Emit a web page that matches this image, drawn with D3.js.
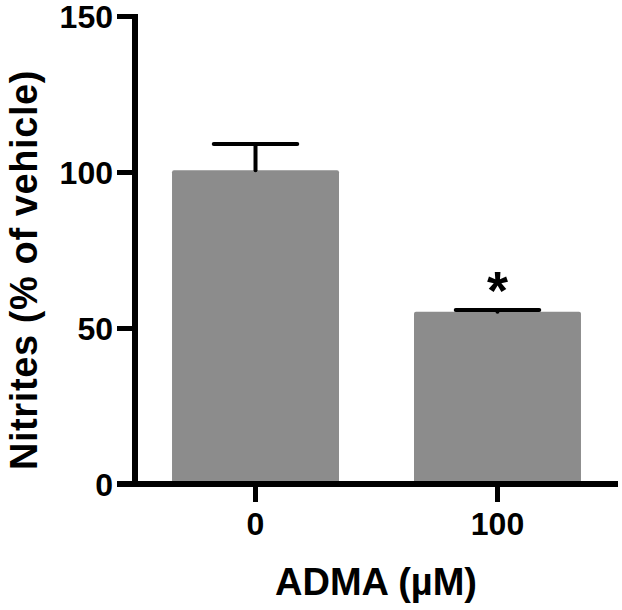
<!doctype html>
<html lang="en">
<head>
    <meta charset="UTF-8" />
    <title>Nitrites</title>
    <script src="https://d3js.org/d3.v7.min.js"></script>
    <style>
        body, html {
            margin: 0;
            padding: 0;
            background: #fff;
            overflow: hidden;
        }
        svg {
            display: block;
            font-family: "Liberation Sans", Arial, sans-serif;
            font-weight: bold;
        }
    </style>
</head>
<body>
    <svg id="chart" width="622" height="610"></svg>
    <script>
        // data
        const doses = ["0", "100"];
        const means = [100.6, 55.2];
        const sems = [8.4, 0.6];
        const stars = ["", "*"];
        const yTicks = [0, 50, 100, 150];

        const svg = d3.select("#chart");

        const x = d3.scaleBand()
            .domain(doses)
            .range([135, 618])
            .paddingInner(0.31)
            .paddingOuter(0.153);

        const y = d3.scaleLinear()
            .domain([0, 150])
            .range([484, 16]);

        // bars
        svg.selectAll("rect.bar")
            .data(doses)
            .enter().append("rect")
            .attr("class", "bar")
            .attr("x", d => x(d))
            .attr("y", (d, i) => y(means[i]))
            .attr("width", x.bandwidth())
            .attr("height", (d, i) => y(0) - y(means[i]))
            .attr("rx", 2)
            .attr("fill", "#8c8c8c");

        // error bars (upper only)
        const capW = x.bandwidth() / 2;
        doses.forEach((d, i) => {
            const cx = x(d) + x.bandwidth() / 2;
            svg.append("line")
                .attr("x1", cx).attr("x2", cx)
                .attr("y1", y(means[i])).attr("y2", y(means[i] + sems[i]))
                .attr("stroke", "#000").attr("stroke-width", 4)
                .attr("stroke-linecap", "round");
            svg.append("line")
                .attr("x1", cx - capW / 2).attr("x2", cx + capW / 2)
                .attr("y1", y(means[i] + sems[i])).attr("y2", y(means[i] + sems[i]))
                .attr("stroke", "#000").attr("stroke-width", 4)
                .attr("stroke-linecap", "round");
            if (stars[i]) {
                svg.append("text")
                    .attr("x", cx)
                    .attr("y", y(means[i] + sems[i]) - 1)
                    .attr("text-anchor", "middle")
                    .attr("font-size", 54)
                    .text(stars[i]);
            }
        });

        // y axis
        const yAxis = svg.append("g")
            .attr("transform", "translate(135,0)")
            .call(d3.axisLeft(y).tickValues(yTicks).tickSize(18).tickPadding(4).tickSizeOuter(0));
        yAxis.select(".domain").attr("stroke-width", 6).attr("stroke", "#000")
            .attr("d", `M0,${y(150) - 2}V${y(0) + 3}`);
        yAxis.selectAll(".tick line").attr("stroke-width", 5).attr("stroke", "#000");
        yAxis.selectAll(".tick text")
            .attr("font-size", 32).attr("fill", "#000")
            .attr("font-family", "Liberation Sans, Arial, sans-serif")
            .attr("font-weight", "bold")
            .attr("dy", "0.36em");

        // x axis
        const xAxis = svg.append("g")
            .attr("transform", `translate(0,${y(0)})`)
            .call(d3.axisBottom(x).tickSize(18).tickPadding(10).tickSizeOuter(0));
        xAxis.select(".domain").attr("stroke-width", 6).attr("stroke", "#000")
            .attr("d", "M117,0H618");
        xAxis.selectAll(".tick line").attr("stroke-width", 5).attr("stroke", "#000");
        xAxis.selectAll(".tick text")
            .attr("font-size", 32).attr("fill", "#000")
            .attr("font-family", "Liberation Sans, Arial, sans-serif")
            .attr("font-weight", "bold");

        // axis titles
        svg.append("text")
            .attr("x", 376)
            .attr("y", 595)
            .attr("text-anchor", "middle")
            .attr("font-size", 38)
            .text("ADMA (µM)");

        svg.append("text")
            .attr("transform", "translate(37,270) rotate(-90)")
            .attr("text-anchor", "middle")
            .attr("font-size", 38)
            .attr("letter-spacing", 0.6)
            .text("Nitrites (% of vehicle)");
    </script>
</body>
</html>
